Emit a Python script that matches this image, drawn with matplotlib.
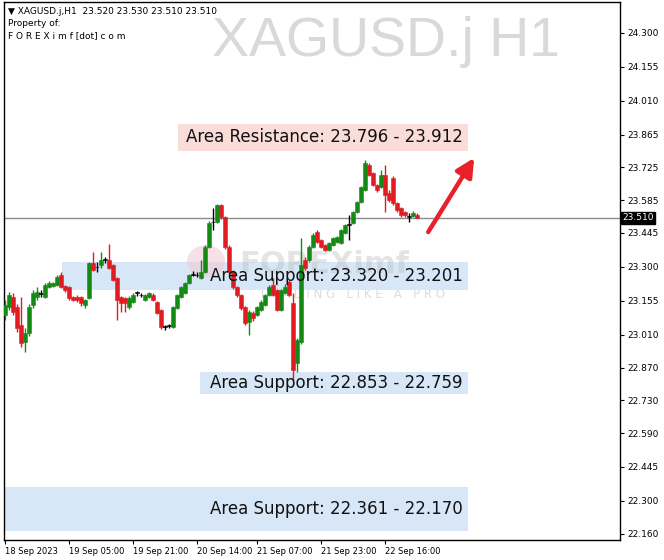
import matplotlib
matplotlib.use("Agg")
import matplotlib.pyplot as plt
from matplotlib.patches import Rectangle, Ellipse
import numpy as np

# XAGUSD.j H1 candles
opens = [23.095, 23.129, 23.172, 23.129, 23.052, 22.979, 23.018, 23.137, 23.172, 23.189,
         23.172, 23.214, 23.219, 23.223, 23.266, 23.219, 23.214, 23.172, 23.172, 23.172,
         23.137, 23.167, 23.317, 23.298, 23.308, 23.330, 23.330, 23.308, 23.253, 23.172,
         23.167, 23.129, 23.150, 23.189, 23.180, 23.159, 23.172, 23.180, 23.150, 23.116,
         23.043, 23.048, 23.043, 23.125, 23.172, 23.189, 23.231, 23.266, 23.266, 23.253,
         23.278, 23.385, 23.490, 23.492, 23.565, 23.514, 23.385, 23.278, 23.214, 23.180,
         23.129, 23.065, 23.104, 23.095, 23.116, 23.137, 23.180, 23.223, 23.201, 23.116,
         23.189, 23.236, 23.146, 22.890, 22.979, 23.330, 23.330, 23.385, 23.449, 23.415,
         23.394, 23.372, 23.394, 23.407, 23.402, 23.445, 23.479, 23.488, 23.535, 23.578,
         23.629, 23.736, 23.702, 23.650, 23.642, 23.693, 23.616, 23.680, 23.573, 23.552,
         23.535, 23.514, 23.518, 23.520]
highs = [23.159, 23.193, 23.189, 23.142, 23.172, 23.039, 23.142, 23.201, 23.214, 23.201,
         23.231, 23.240, 23.236, 23.266, 23.278, 23.223, 23.219, 23.176, 23.180, 23.176,
         23.163, 23.321, 23.364, 23.321, 23.364, 23.342, 23.398, 23.312, 23.257, 23.176,
         23.172, 23.176, 23.189, 23.197, 23.189, 23.184, 23.193, 23.189, 23.155, 23.120,
         23.052, 23.056, 23.133, 23.184, 23.219, 23.236, 23.270, 23.283, 23.278, 23.330,
         23.394, 23.496, 23.552, 23.569, 23.569, 23.518, 23.394, 23.287, 23.219, 23.184,
         23.133, 23.116, 23.112, 23.133, 23.159, 23.184, 23.223, 23.253, 23.206, 23.206,
         23.227, 23.244, 23.189, 22.997, 23.424, 23.342, 23.394, 23.445, 23.458, 23.420,
         23.398, 23.407, 23.428, 23.432, 23.462, 23.484, 23.522, 23.539, 23.582, 23.646,
         23.757, 23.744, 23.706, 23.655, 23.715, 23.736, 23.629, 23.689, 23.578, 23.556,
         23.539, 23.531, 23.539, 23.530]
lows = [23.074, 23.116, 23.095, 23.022, 22.958, 22.937, 23.005, 23.125, 23.159, 23.172,
        23.167, 23.210, 23.214, 23.219, 23.210, 23.193, 23.159, 23.155, 23.150, 23.133,
        23.125, 23.163, 23.283, 23.278, 23.296, 23.317, 23.291, 23.240, 23.074, 23.107,
        23.107, 23.120, 23.146, 23.176, 23.172, 23.155, 23.167, 23.155, 23.099, 23.035,
        23.030, 23.039, 23.039, 23.120, 23.167, 23.184, 23.227, 23.261, 23.257, 23.248,
        23.274, 23.381, 23.458, 23.488, 23.505, 23.377, 23.270, 23.206, 23.172, 23.116,
        23.052, 23.009, 23.069, 23.090, 23.112, 23.133, 23.176, 23.176, 23.112, 23.112,
        23.184, 23.176, 22.817, 22.851, 22.970, 23.287, 23.321, 23.381, 23.402, 23.381,
        23.368, 23.368, 23.390, 23.402, 23.398, 23.441, 23.415, 23.484, 23.531, 23.573,
        23.625, 23.689, 23.646, 23.620, 23.638, 23.535, 23.578, 23.565, 23.535, 23.514,
        23.514, 23.492, 23.514, 23.510]
closes = [23.137, 23.180, 23.107, 23.039, 22.975, 23.018, 23.129, 23.189, 23.193, 23.186,
          23.223, 23.231, 23.231, 23.257, 23.214, 23.201, 23.167, 23.159, 23.159, 23.146,
          23.159, 23.317, 23.287, 23.300, 23.330, 23.332, 23.296, 23.244, 23.159, 23.146,
          23.146, 23.167, 23.180, 23.191, 23.178, 23.180, 23.189, 23.159, 23.104, 23.043,
          23.045, 23.050, 23.129, 23.180, 23.214, 23.231, 23.266, 23.268, 23.264, 23.278,
          23.385, 23.488, 23.492, 23.565, 23.514, 23.385, 23.278, 23.214, 23.180, 23.125,
          23.061, 23.107, 23.082, 23.129, 23.150, 23.180, 23.214, 23.180, 23.116, 23.201,
          23.214, 23.180, 22.860, 22.988, 23.308, 23.296, 23.385, 23.437, 23.407, 23.385,
          23.372, 23.402, 23.424, 23.428, 23.458, 23.479, 23.481, 23.535, 23.578, 23.642,
          23.744, 23.693, 23.650, 23.629, 23.693, 23.608, 23.586, 23.573, 23.543, 23.522,
          23.522, 23.516, 23.531, 23.510]

time_ticks = [0, 16, 32, 48, 63, 79, 95]
time_labels = ["18 Sep 2023", "19 Sep 05:00", "19 Sep 21:00", "20 Sep 14:00",
               "21 Sep 07:00", "21 Sep 23:00", "22 Sep 16:00"]
price_ticks = [24.300, 24.155, 24.010, 23.865, 23.725, 23.585, 23.445, 23.300,
               23.155, 23.010, 22.870, 22.730, 22.590, 22.445, 22.300, 22.160]

last_price = 23.510
resistance = (23.796, 23.912)
supports = [(23.320, 23.201), (22.853, 22.759), (22.361, 22.170)]

GREEN = "#148a14"
RED = "#e01c22"
YMIN, YMAX = 22.133, 24.432

fig = plt.figure(figsize=(6.64, 5.60), dpi=100)
ax = fig.add_axes([4 / 664, 20 / 560, 616 / 664, 538 / 560])
ax.set_xlim(-0.25, 153.75)
ax.set_ylim(YMIN, YMAX)

# watermark
ax.text(0.62, 0.926, "XAGUSD.j H1", transform=ax.transAxes, fontsize=40,
        family="Liberation Sans", color="#d9d9d9", ha="center", va="center",
        zorder=0)

# zones
ax.add_patch(Rectangle((43.25, resistance[0]), 72.5, resistance[1] - resistance[0],
                       facecolor="#fadcd9", edgecolor="none", zorder=1))
zone_x = [14.25, 48.75, -0.25]
for (hi, lo), x0 in zip(supports, zone_x):
    ax.add_patch(Rectangle((x0, lo), 115.75 - x0, hi - lo,
                           facecolor="#d7e7f7", edgecolor="none", zorder=1))

# faint site logo over the first support zone
ax.add_patch(Ellipse((0.328, 0.518), 0.062, 0.06, transform=ax.transAxes,
                     facecolor="#f3c9d2", edgecolor="none", alpha=0.55, zorder=1.5))
ax.text(0.52, 0.512, "FOREXimf", transform=ax.transAxes, fontsize=22,
        color="#bdbdbd", alpha=0.4, ha="center", va="center",
        fontweight="bold", zorder=1.6)
ax.text(0.565, 0.457, "T R A D I N G   L I K E   A   P R O", transform=ax.transAxes,
        fontsize=8.5, color="#dddddd", ha="center", va="center", zorder=0)

ax.axhline(last_price, color="#8c8c8c", lw=1, zorder=2)

# candles
idx = np.arange(len(opens))
for i in idx:
    o, h, l, c = opens[i], highs[i], lows[i], closes[i]
    if abs(c - o) < 0.004:
        col = "black"
    elif c > o:
        col = GREEN
    else:
        col = RED
    ax.vlines(i, l, h, color=col, lw=1, zorder=3)
    ax.bar(i, max(abs(c - o), 0.003), bottom=min(o, c), width=0.78,
           color=col, edgecolor=col, lw=0.4, zorder=4)

# zone labels
ax.text(114.5, sum(resistance) / 2, "Area Resistance: %.3f - %.3f" % resistance,
        ha="right", va="center", fontsize=12, color="#111111", zorder=5)
for hi, lo in supports:
    ax.text(114.5, (hi + lo) / 2, "Area Support: %.3f - %.3f" % (hi, lo),
            ha="right", va="center", fontsize=12, color="#111111", zorder=5)

# arrow
ax.annotate("", xy=(117.3, 23.766), xytext=(105.8, 23.449),
            arrowprops=dict(arrowstyle="-|>,head_length=1.1,head_width=0.55",
                            color="#e8202a", lw=3.2, shrinkA=0, shrinkB=0),
            zorder=6)

# header
ax.text(0.006, 0.99, "\u25bc XAGUSD.j,H1  23.520 23.530 23.510 23.510",
        transform=ax.transAxes, fontsize=6.5, va="top", ha="left")
ax.text(0.006, 0.968, "Property of:", transform=ax.transAxes, fontsize=6.5,
        va="top", ha="left")
ax.text(0.006, 0.946, "F O R E X i m f [dot] c o m", transform=ax.transAxes,
        fontsize=6.5, va="top", ha="left")

# axes
ax.yaxis.tick_right()
ax.set_yticks(price_ticks)
ax.set_yticklabels(["%.3f" % p for p in price_ticks])
ax.set_xticks(time_ticks)
ax.set_xticklabels(time_labels, ha="left")
ax.tick_params(axis="y", labelsize=6.5, length=3, width=0.8, pad=2)
ax.tick_params(axis="x", labelsize=6, length=3, width=0.8, pad=2)
for s in ax.spines.values():
    s.set_linewidth(1.0)

ax.text(1.004, (last_price - YMIN) / (YMAX - YMIN), "%.3f" % last_price,
        transform=ax.transAxes, fontsize=6.5, color="white", ha="left",
        va="center", bbox=dict(boxstyle="square,pad=0.15", fc="black", ec="black"),
        clip_on=False)

fig.savefig("out.png", dpi=100, facecolor="white")
